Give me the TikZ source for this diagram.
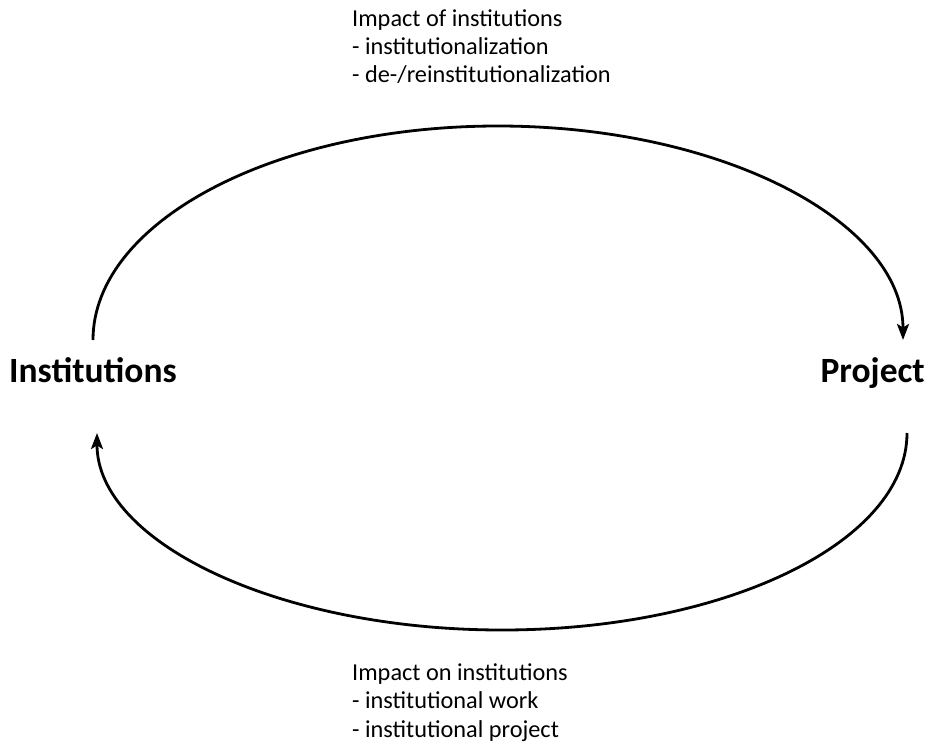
\documentclass[tikz,border=0pt]{standalone}
\usepackage{fontspec}
\setmainfont{Carlito}
\usetikzlibrary{arrows.meta}
\tikzset{
  txt/.style={anchor=base west, inner sep=0pt, font=\fontsize{24.3}{28}\selectfont},
  lbl/.style={inner sep=0pt, font=\fontsize{35.5}{40}\selectfont\bfseries},
  flow/.style={line width=2.8pt, -{Stealth[length=16pt,width=12pt,inset=3.5pt]}}
}
\begin{document}
\begin{tikzpicture}[x=1pt,y=-1pt]
\useasboundingbox (0,0) rectangle (929,744);
\node[lbl, anchor=base west] (inst) at (9,382) {Institutions};
\node[lbl, anchor=base east] (proj) at (925,382) {Project};
\coordinate (a1) at (93,340);
\coordinate (top) at (498,126);
\coordinate (a2) at (903,340);
\coordinate (b1) at (907,433);
\coordinate (bot) at (502,630);
\coordinate (b2) at (97,433);
\draw[flow] (a1) .. controls +(0,-118) and +(-224,0) .. (top) .. controls +(224,0) and +(0,-118) .. (a2);
\draw[flow] (b1) .. controls +(0,109) and +(224,0) .. (bot) .. controls +(-224,0) and +(0,109) .. (b2);
\node[txt] (t1) at (352,27) {Impact of institutions};
\node[txt] (t2) at (352,54.5) {- institutionalization};
\node[txt] (t3) at (352,82) {- de-/reinstitutionalization};
\node[txt] (u1) at (352,680) {Impact on institutions};
\node[txt] (u2) at (352,708) {- institutional work};
\node[txt] (u3) at (352,737) {- institutional project};
\end{tikzpicture}
\end{document}
